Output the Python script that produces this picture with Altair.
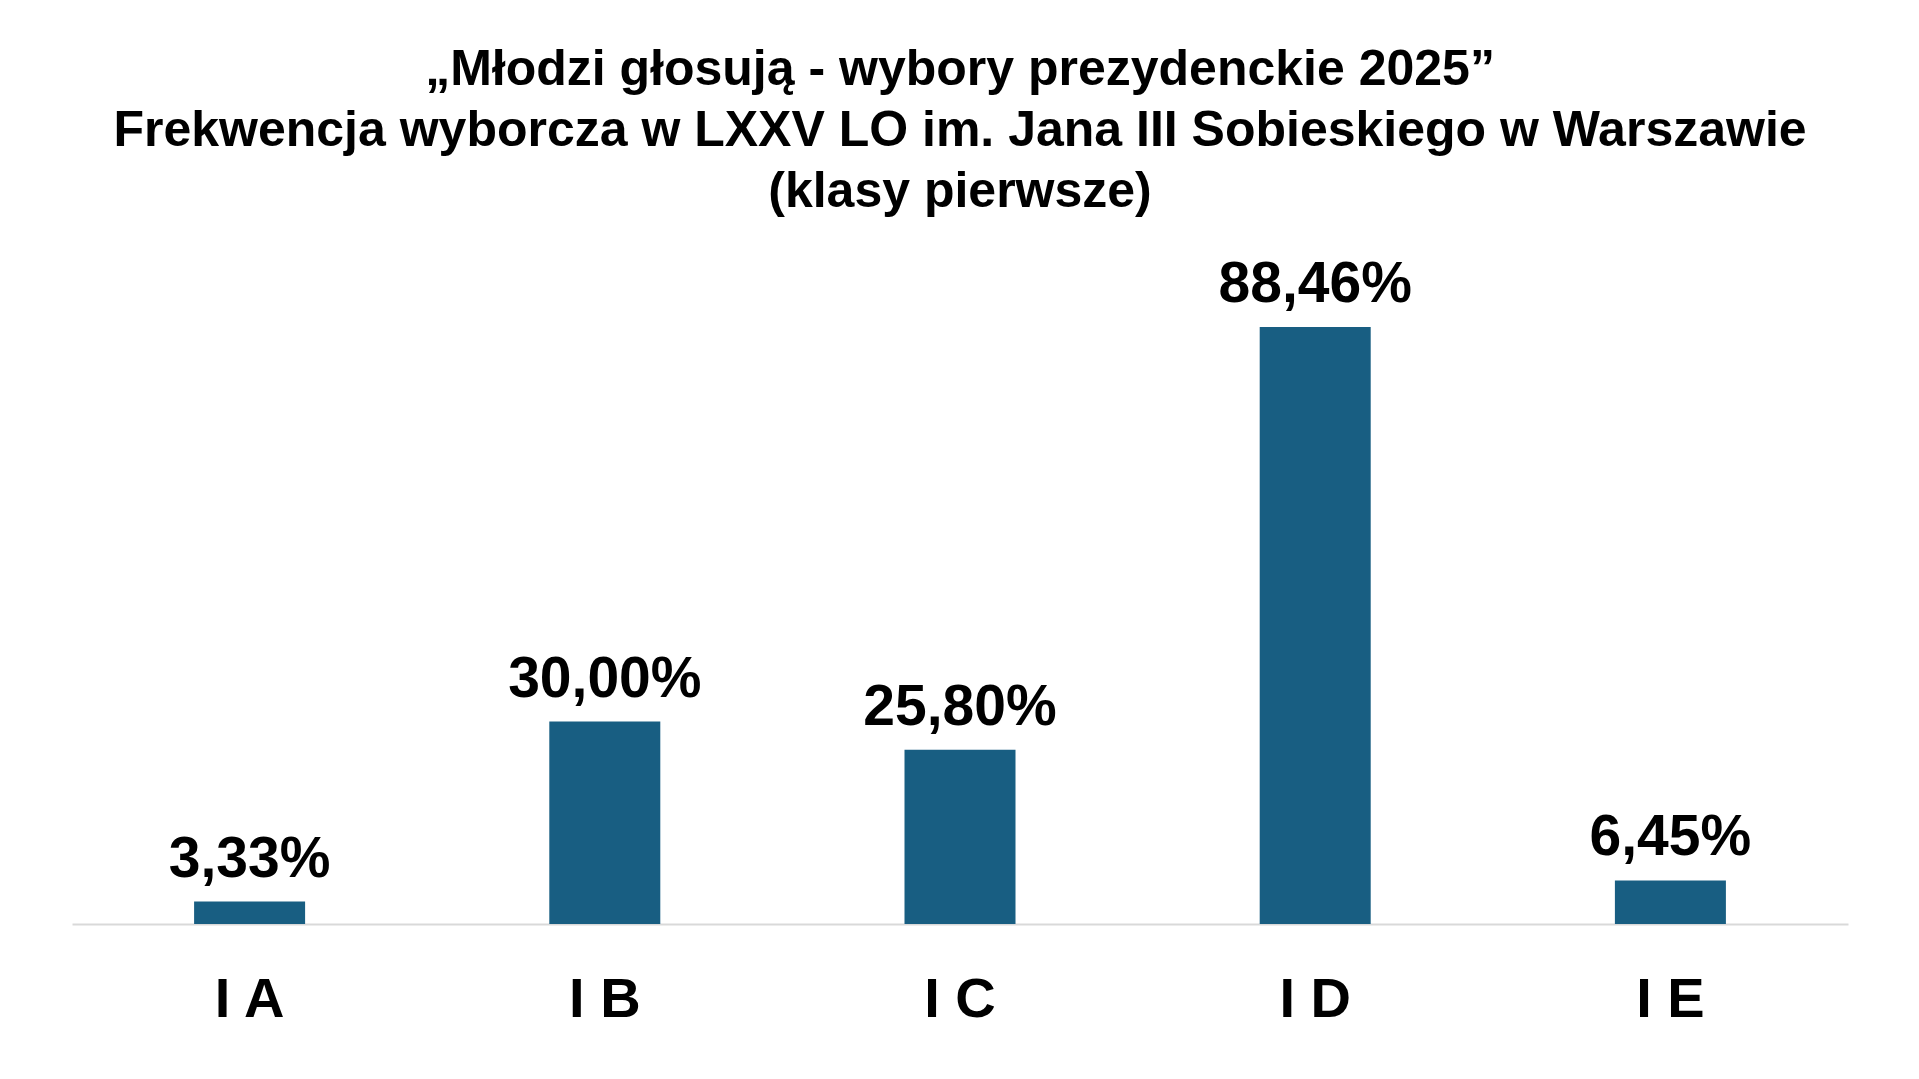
import altair as alt
import pandas as pd

classes = ["I A", "I B", "I C", "I D", "I E"]
turnout = [3.33, 30.00, 25.80, 88.46, 6.45]
title_lines = [
    "„Młodzi głosują - wybory prezydenckie 2025”",
    "Frekwencja wyborcza w LXXV LO im. Jana III Sobieskiego w Warszawie",
    "(klasy pierwsze)",
]

df = pd.DataFrame({"klasa": classes, "frekwencja": turnout})

FONT = "Liberation Sans"
BAR = "#185e82"

x = alt.X(
    "klasa:N",
    sort=classes,
    scale=alt.Scale(paddingInner=0.6875, paddingOuter=0.34375),
    axis=alt.Axis(
        title=None,
        labelAngle=0,
        labelFont=FONT,
        labelFontSize=56,
        labelFontWeight="bold",
        labelColor="#000000",
        labelPadding=48,
        ticks=False,
        tickSize=0,
        domainColor="#d9d9d9",
        domainWidth=2,
        grid=False,
    ),
)
y = alt.Y(
    "frekwencja:Q",
    scale=alt.Scale(domain=[0, 100]),
    axis=None,
)

bars = alt.Chart(df).mark_bar(color=BAR).encode(x=x, y=y)

labels = (
    alt.Chart(df)
    .transform_calculate(
        lab="replace(format(datum.frekwencja, '.2f'), '.', ',') + '%'"
    )
    .mark_text(
        font=FONT,
        fontSize=57,
        fontWeight="bold",
        color="#000000",
        baseline="alphabetic",
        align="center",
        dy=-25,
    )
    .encode(x=x, y=y, text="lab:N")
)

chart = (
    alt.layer(bars, labels)
    .properties(
        width=1776,
        height=675,
        background="#ffffff",
        padding={"left": 64, "top": 241, "right": 20, "bottom": 130},
        autosize=alt.AutoSizeParams(type="none"),
        title=alt.TitleParams(
            text=title_lines,
            font=FONT,
            fontSize=50,
            fontWeight="bold",
            color="#000000",
            lineHeight=61,
            anchor="middle",
            offset=32,
        ),
    )
    .configure_view(strokeWidth=0, stroke=None)
)

chart.save("out.html", embed_options={"renderer": "svg", "actions": False})
